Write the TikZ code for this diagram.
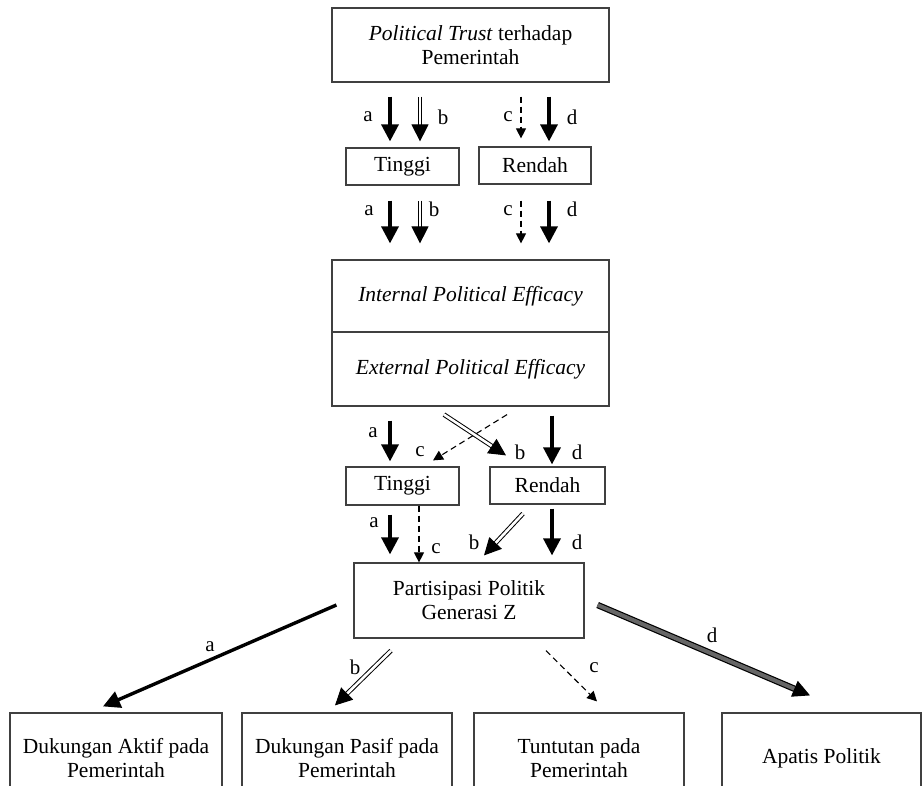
\documentclass[tikz,border=0pt]{standalone}
\usepackage{fontspec}
\setmainfont{Liberation Serif}
\usetikzlibrary{arrows.meta}
\begin{document}
\begin{tikzpicture}[x=1pt,y=-1pt,
  box/.style={draw=black!75,line width=1.2pt,align=center,inner sep=0pt,font=\fontsize{21.5}{24}\selectfont},
  lab/.style={inner sep=0pt,font=\fontsize{21}{22}\selectfont},
  solidarr/.style={line width=3.4pt,-{Triangle[length=17pt,width=17pt]}},
  dblarr/.style={line width=1pt,double=white,double distance=2.6pt,-{Triangle[length=17pt,width=17pt]}},
  dasharr/.style={line width=1.1pt,dash pattern=on 6pt off 4pt,-{Triangle[length=10pt,width=10pt]}},
  grayarr/.style={line width=1.2pt,double=black!60,double distance=4pt,-{Triangle[length=17pt,width=17pt]}}
]
\useasboundingbox[fill=white] (0,0) rectangle (923,786);
% boxes
\node[box,minimum width=277pt,minimum height=74pt] (top) at (470.5,45) {\textit{Political Trust} terhadap\\Pemerintah};
\node[box,minimum width=113pt,minimum height=37pt] (t1) at (402.5,166.5) {Tinggi};
\node[box,minimum width=112pt,minimum height=37pt] (r1) at (535,165.5) {Rendah};
\node[box,minimum width=277pt,minimum height=72pt] (int) at (470.5,296) {\textit{Internal Political Efficacy}};
\node[box,minimum width=277pt,minimum height=74pt] (ext) at (470.5,369) {\textit{External Political Efficacy}};
\node[box,minimum width=113pt,minimum height=38pt] (t2) at (402.5,486) {Tinggi};
\node[box,minimum width=115pt,minimum height=37pt] (r2) at (547.5,485.5) {Rendah};
\node[box,minimum width=230pt,minimum height=75pt] (part) at (469,600.5) {Partisipasi Politik\\Generasi Z};
\node[box,minimum width=212pt,minimum height=90pt] (o1) at (116,758) {Dukungan Aktif pada\\Pemerintah};
\node[box,minimum width=210pt,minimum height=90pt] (o2) at (347,758) {Dukungan Pasif pada\\Pemerintah};
\node[box,minimum width=210pt,minimum height=90pt] (o3) at (579,758) {Tuntutan pada\\Pemerintah};
\node[box,minimum width=199pt,minimum height=90pt] (o4) at (821.5,758) {Apatis Politik};
% row 1
\draw[solidarr] ([xshift=-80.5pt,yshift=-14pt]top.south) -- ([xshift=-12.5pt,yshift=6pt]t1.north);
\draw[dblarr] ([xshift=-50.5pt,yshift=-14pt]top.south) -- ([xshift=17.5pt,yshift=6pt]t1.north);
\draw[dasharr] ([xshift=50.5pt,yshift=-14pt]top.south) -- ([xshift=-14pt,yshift=8pt]r1.north);
\draw[solidarr] ([xshift=78.5pt,yshift=-14pt]top.south) -- ([xshift=14pt,yshift=5pt]r1.north);
\node[lab] (la1) at (368,117) {a};
\node[lab] (lb1) at (443,117) {b};
\node[lab] (lc1) at (508,117) {c};
\node[lab] (ld1) at (572,117) {d};
% row 2
\draw[solidarr] ([xshift=-12.5pt,yshift=-15pt]t1.south) -- ([xshift=-80.5pt,yshift=16pt]int.north);
\draw[dblarr] ([xshift=17.5pt,yshift=-15pt]t1.south) -- ([xshift=-50.5pt,yshift=16pt]int.north);
\draw[dasharr] ([xshift=-14pt,yshift=-16pt]r1.south) -- ([xshift=50.5pt,yshift=16pt]int.north);
\draw[solidarr] ([xshift=14pt,yshift=-16pt]r1.south) -- ([xshift=78.5pt,yshift=16pt]int.north);
\node[lab] (la2) at (369,211) {a};
\node[lab] (lb2) at (434,209) {b};
\node[lab] (lc2) at (508,211) {c};
\node[lab] (ld2) at (572,209) {d};
% row 3
\draw[solidarr] ([xshift=-80.5pt,yshift=-14pt]ext.south) -- ([xshift=-12.5pt,yshift=5pt]t2.north);
\draw[dasharr] ([xshift=36.5pt,yshift=-8pt]ext.south) -- ([xshift=30.5pt,yshift=6pt]t2.north);
\draw[dblarr] ([xshift=-26.5pt,yshift=-8pt]ext.south) -- ([xshift=-41.5pt,yshift=11pt]r2.north);
\draw[solidarr] ([xshift=81.5pt,yshift=-9pt]ext.south) -- ([xshift=4.5pt,yshift=2pt]r2.north);
\node[lab] (la3) at (373,433) {a};
\node[lab] (lc3) at (420,452) {c};
\node[lab] (lb3) at (520,452) {b};
\node[lab] (ld3) at (577,452) {d};
% row 4
\draw[solidarr] ([xshift=-12.5pt,yshift=-9pt]t2.south) -- ([xshift=-79pt,yshift=8pt]part.north);
\draw[dasharr] ([xshift=16.5pt]t2.south) -- ([xshift=-50pt]part.north);
\draw[dblarr] ([xshift=-24.5pt,yshift=-9pt]r2.south) -- ([xshift=15pt,yshift=7pt]part.north);
\draw[solidarr] ([xshift=4.5pt,yshift=-4pt]r2.south) -- ([xshift=83pt,yshift=7pt]part.north);
\node[lab] (la4) at (374,523) {a};
\node[lab] (lc4) at (436,549) {c};
\node[lab] (lb4) at (474,542) {b};
\node[lab] (ld4) at (577,542) {d};
% row 5
\draw[solidarr] ([xshift=-17pt,yshift=-4.5pt]part.west) -- ([xshift=-13pt,yshift=6pt]o1.north);
\draw[dblarr] ([xshift=-78pt,yshift=-12pt]part.south) -- ([xshift=-12pt,yshift=7pt]o2.north);
\draw[dasharr] ([xshift=77pt,yshift=-12pt]part.south) -- ([xshift=18pt,yshift=11pt]o3.north);
\draw[grayarr] ([xshift=13pt,yshift=-4.5pt]part.east) -- ([xshift=-11.5pt,yshift=17pt]o4.north);
\node[lab] (la5) at (210,647) {a};
\node[lab] (lb5) at (355,667) {b};
\node[lab] (lc5) at (594,668) {c};
\node[lab] (ld5) at (712,635) {d};
\end{tikzpicture}
\end{document}
